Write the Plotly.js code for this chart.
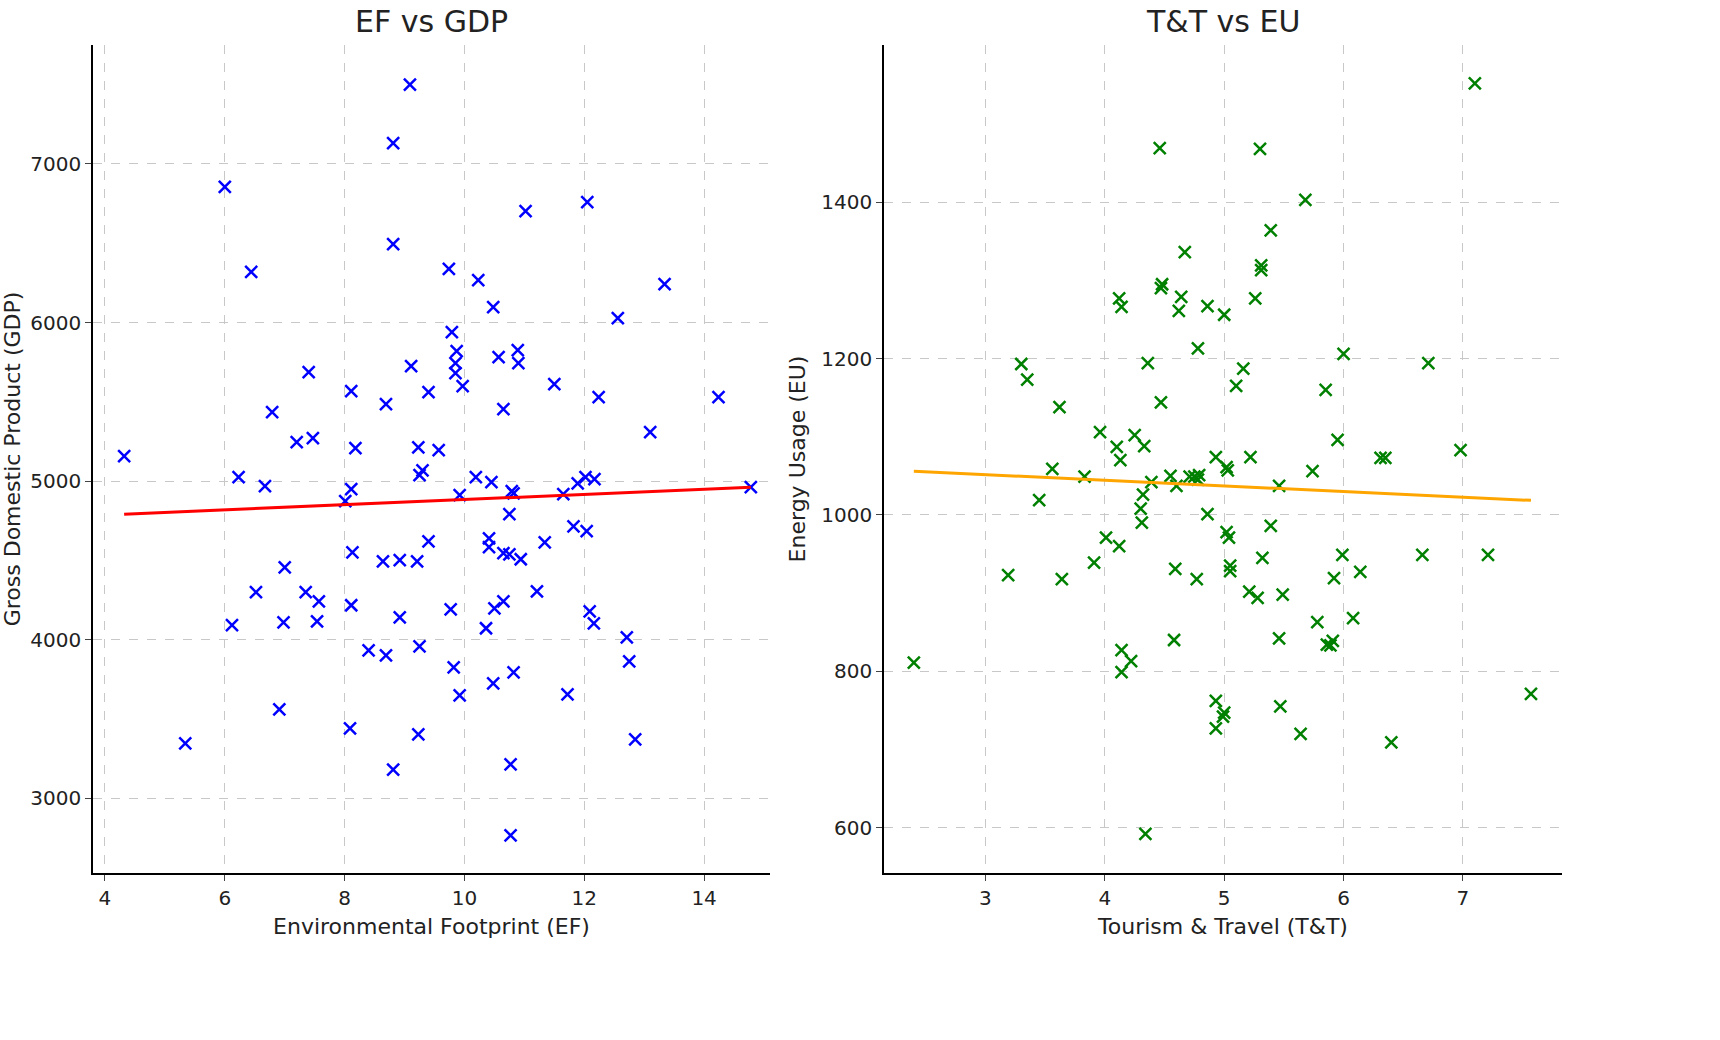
<!DOCTYPE html>
<html>
<head>
<script src="https://cdn.plot.ly/plotly-3.0.1.min.js"></script>
<style>body{margin:0;background:#fff}</style>
</head>
<body>
<div id="chart" style="width:1720px;height:1040px"></div>
<script>
// EF vs GDP
var efVals = [4.32,6.0,6.44,6.23,6.67,6.79,6.52,6.12,7.0,6.98,6.91,5.34,7.2,7.4,7.47,7.35,7.57,7.54,8.11,8.18,8.11,8.13,8.11,8.09,8.01,8.69,8.81,8.81,9.09,9.11,8.64,8.92,8.92,8.4,8.69,8.81,9.23,9.3,9.25,9.21,9.4,9.57,9.4,9.25,9.23,9.74,9.79,9.87,9.85,9.85,9.97,9.77,9.82,9.92,9.92,10.23,10.48,10.19,10.45,10.57,10.65,10.41,10.41,10.36,10.5,10.48,10.65,10.65,10.75,10.75,10.79,10.82,10.89,10.9,10.94,11.02,11.21,11.34,11.5,11.65,11.82,11.72,10.77,10.77,10.82,12.05,12.02,12.04,12.09,12.16,12.17,12.24,12.56,11.89,12.71,12.75,12.85,13.1,13.34,14.24,14.78];
var gdpVals = [5158,6855,6319,5025,4969,5435,4300,4092,4457,4110,3562,3347,5246,5688,5271,4300,4243,4117,5568,5208,4950,4552,4218,3442,4874,5486,7132,6495,7500,5726,4495,4502,4142,3934,3902,3181,5214,5069,5038,4495,5562,5196,4621,3959,3404,6338,5940,5820,5745,5681,5599,4192,3827,3650,4912,6268,6098,5025,4994,5782,5454,4640,4584,4073,4199,3726,4546,4243,4539,4792,4937,4924,5827,5745,4508,6703,4306,4615,5612,4918,4716,3656,2767,3215,3795,6760,5025,4685,4180,4104,5013,5530,6028,4987,4016,3864,3372,5309,6243,5530,4962];
// T&T vs EU
var ttVals = [2.40,3.19,3.30,3.35,3.45,3.56,3.62,3.64,3.83,3.96,3.91,4.01,4.12,4.14,4.10,4.13,4.12,4.14,4.14,4.22,4.25,4.30,4.31,4.32,4.33,4.36,4.39,4.34,4.47,4.46,4.47,4.48,4.58,4.59,4.55,4.60,4.62,4.64,4.67,4.71,4.75,4.78,4.79,4.77,4.78,4.86,4.86,4.93,4.93,4.93,4.99,5.00,5.00,5.02,5.03,5.02,5.04,5.05,5.05,5.10,5.16,5.21,5.22,5.26,5.28,5.31,5.32,5.30,5.31,5.39,5.39,5.46,5.46,5.47,5.49,5.64,5.68,5.74,5.78,5.85,5.86,5.89,5.91,5.92,5.95,5.99,6.00,6.08,6.14,6.31,6.35,6.66,6.71,6.98,7.10,7.21,7.57,6.40];
var euVals = [811,923,1193,1173,1019,1059,1138,918,1049,1106,939,971,1277,1266,1087,1070,960,827,799,813,1102,1008,990,1026,1088,1194,1042,592,1144,1469,1290,1295,840,931,1050,1037,1261,1279,1336,1049,1049,1045,1051,918,1213,1267,1001,1074,762,727,742,747,1256,1061,1057,978,971,935,928,1165,1187,902,1074,1277,894,1319,945,1468,1313,1364,986,1037,842,755,898,720,1403,1056,863,1160,834,833,839,919,1096,949,1206,868,927,1073,1073,949,1194,1083,1552,949,771,709];

function fitLine(xs, ys) {
    var n = xs.length, mx = 0, my = 0;
    for (var i = 0; i < n; i++) { mx += xs[i]; my += ys[i]; }
    mx /= n; my /= n;
    var sxy = 0, sxx = 0;
    for (var i = 0; i < n; i++) { sxy += (xs[i]-mx)*(ys[i]-my); sxx += (xs[i]-mx)*(xs[i]-mx); }
    var b = sxy / sxx, a = my - b*mx;
    var x0 = Math.min(...xs), x1 = Math.max(...xs);
    return {x: [x0, x1], y: [a + b*x0, a + b*x1]};
}

var l1 = fitLine(efVals, gdpVals);
var l2 = fitLine(ttVals, euVals);

var mk = function (c) { return {symbol: 'x-thin', size: 12, line: {color: c, width: 2.5}, color: c}; };

var traces = [
    {type: 'scatter', mode: 'markers', x: efVals, y: gdpVals, marker: mk('#0000ff'), xaxis: 'x', yaxis: 'y'},
    {type: 'scatter', mode: 'lines', x: l1.x, y: l1.y, line: {color: '#ff0000', width: 3}, xaxis: 'x', yaxis: 'y'},
    {type: 'scatter', mode: 'markers', x: ttVals, y: euVals, marker: mk('#008000'), xaxis: 'x2', yaxis: 'y2'},
    {type: 'scatter', mode: 'lines', x: l2.x, y: l2.y, line: {color: '#ffa500', width: 3}, xaxis: 'x2', yaxis: 'y2'}
];

var ax = {
    showline: true, linecolor: '#000', linewidth: 1.5, ticks: 'outside', ticklen: 6,
    gridcolor: '#c8c8c8', griddash: 'dash', gridwidth: 1, zeroline: false, mirror: false
};
function A(extra) { return Object.assign({}, ax, extra); }

var layout = {
    width: 1720, height: 1040, showlegend: false,
    paper_bgcolor: '#fff', plot_bgcolor: '#fff',
    font: {family: 'DejaVu Sans, sans-serif', size: 20, color: '#222'},
    margin: {l: 0, r: 0, t: 0, b: 0},
    xaxis: A({domain: [93/1720, 770/1720], range: [3.8, 15.1], dtick: 2,
        title: {text: 'Environmental Footprint (EF)', font: {size: 22}, standoff: 10}}),
    yaxis: A({domain: [1 - 873/1040, 1 - 45/1040], range: [2530, 7750], tickvals: [3000, 4000, 5000, 6000, 7000],
        title: {text: 'Gross Domestic Product (GDP)', font: {size: 22}, standoff: 10}}),
    xaxis2: A({anchor: 'y2', domain: [884/1720, 1562/1720], range: [2.15, 7.83], dtick: 1,
        title: {text: 'Tourism & Travel (T&T)', font: {size: 22}, standoff: 10}}),
    yaxis2: A({anchor: 'x2', domain: [1 - 873/1040, 1 - 45/1040], range: [542, 1601], tickvals: [600, 800, 1000, 1200, 1400],
        title: {text: 'Energy Usage (EU)', font: {size: 22}, standoff: 10}}),
    annotations: [
        {text: 'EF vs GDP', x: 0.5, y: 1, xref: 'x domain', yref: 'y domain', xanchor: 'center', yanchor: 'bottom', yshift: 4, showarrow: false, font: {size: 30}},
        {text: 'T&T vs EU', x: 0.5, y: 1, xref: 'x2 domain', yref: 'y2 domain', xanchor: 'center', yanchor: 'bottom', yshift: 4, showarrow: false, font: {size: 30}}
    ]
};

Plotly.newPlot('chart', traces, layout, {displayModeBar: false});
</script>
</body>
</html>
